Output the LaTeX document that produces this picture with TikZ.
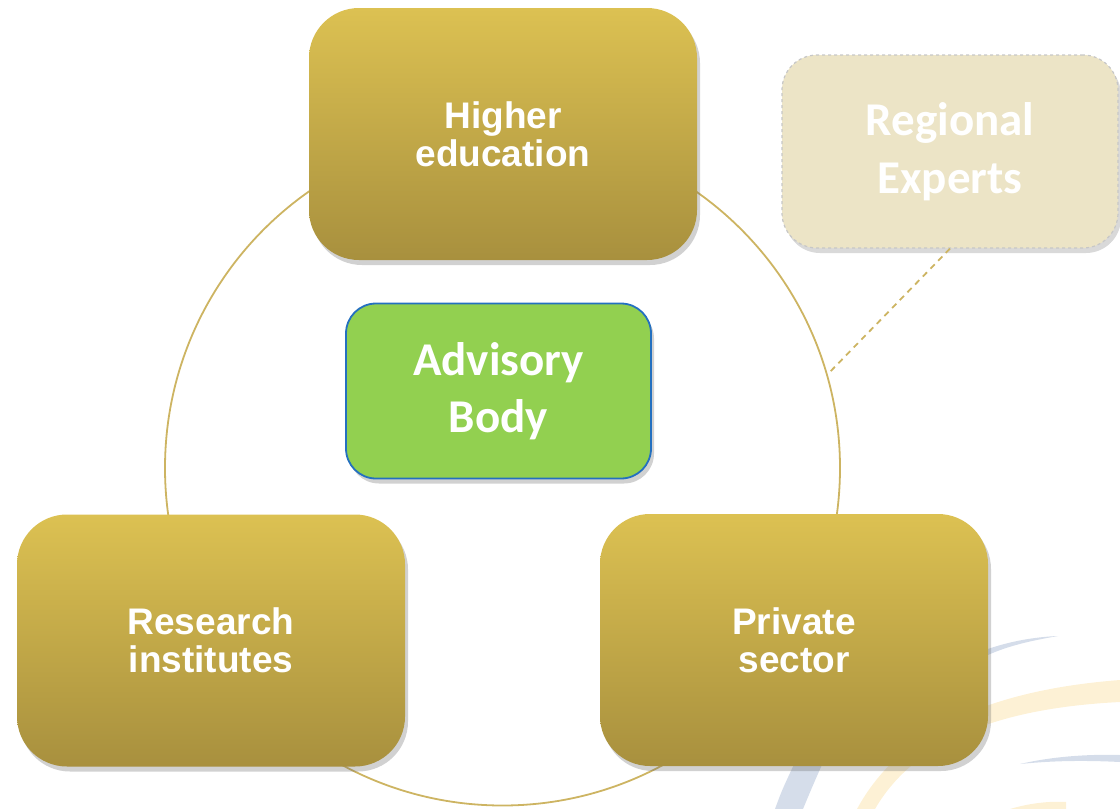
\documentclass[tikz,border=0pt]{standalone}
\usepackage{fontspec}
\setmainfont{Liberation Sans}
\newfontfamily\calibri{Carlito}
\usepackage{tikz}
\usetikzlibrary{shadows}
\definecolor{goldtop}{HTML}{DCC152}
\definecolor{goldbot}{HTML}{A8903E}
\definecolor{ringcol}{HTML}{CDB462}
\definecolor{advgreen}{HTML}{92D050}
\definecolor{advblue}{HTML}{2470C0}
\definecolor{expfill}{HTML}{ECE4C6}
\definecolor{swblue}{HTML}{D5DDEA}
\definecolor{swyellow}{HTML}{FDF1D5}

\begin{document}
\begin{tikzpicture}[x=1pt,y=-1pt,
	sector/.style={rectangle,rounded corners=50pt,minimum width=388pt,minimum height=252pt,
		top color=goldtop,bottom color=goldbot,text=white,align=center,
		font=\bfseries\fontsize{37}{38}\selectfont,
		drop shadow={shadow xshift=3pt,shadow yshift=-5pt,opacity=.3,fill=black!60}},
	advisory/.style={rectangle,rounded corners=30pt,minimum width=305pt,minimum height=175pt,
		fill=advgreen,draw=advblue,line width=1.8pt,text=white,align=center,
		font=\calibri\bfseries\fontsize{47}{57}\selectfont,
		drop shadow={shadow xshift=3pt,shadow yshift=-5pt,opacity=.3,fill=black!60}},
	expert/.style={rectangle,rounded corners=35pt,minimum width=336pt,minimum height=193pt,
		fill=expfill,draw=black!22,dashed,line width=1.2pt,text=white,align=center,
		font=\calibri\bfseries\fontsize{47}{58}\selectfont,
		drop shadow={shadow xshift=3pt,shadow yshift=-5pt,opacity=.25,fill=black!60}}]
	\useasboundingbox (0,0) rectangle (1120,809);

	\fill[swblue] (775,809) .. controls (782,790) .. (797,758) -- (825,758) .. controls (813,785) .. (803,809) -- cycle;
	\fill[swyellow] (857,809) .. controls (900,730) and (990,690) .. (1120,680) -- (1120,702)
		.. controls (1000,708) and (915,740) .. (875,809) -- cycle;
	\fill[swblue] (985,650) .. controls (1010,641) and (1035,637) .. (1058,636)
		.. controls (1035,640) and (1010,645) .. (988,655) -- cycle;
	\fill[swblue] (1020,764) .. controls (1050,757) and (1085,754) .. (1120,755) -- (1120,762)
		.. controls (1080,760) and (1050,761) .. (1020,764) -- cycle;
	\fill[swyellow] (1010,809) .. controls (1030,803) and (1050,801) .. (1066,802) -- (1066,809) -- cycle;

	\node[circle,draw=ringcol,line width=1.8pt,minimum size=675pt,inner sep=0pt,outer sep=0pt] (ring) at (502.5,468) {};

	\node[sector] (hedu) at (503,134) {Higher\\education};
	\node[sector] (resi) at (211,640.5) {Research\\institutes};
	\node[sector] (priv) at (794,640) {Private\\sector};
	\node[advisory] (adv) at (498.5,391) {Advisory\\Body};
	\node[expert] (exp) at (950,151.5) {Regional\\Experts};

	\draw[ringcol,line width=1.8pt,dash pattern=on 6pt off 5pt] (exp.south) -- (ring.16);
\end{tikzpicture}
\end{document}
